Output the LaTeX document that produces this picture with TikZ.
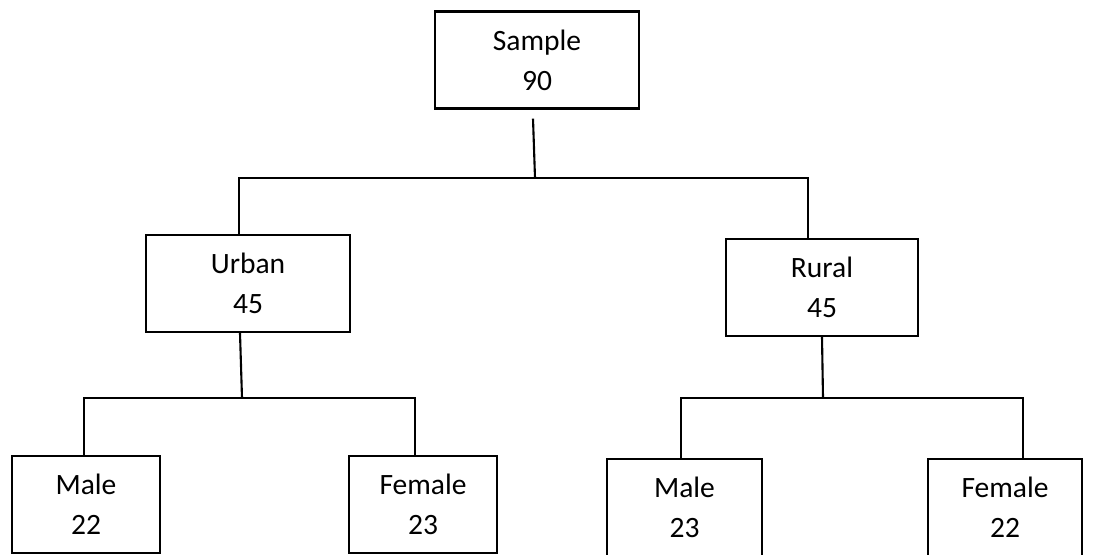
\documentclass[tikz,border=0pt]{standalone}
\usepackage{fontspec}
\setmainfont{Carlito}
\usetikzlibrary{positioning,calc}

\begin{document}
\begin{tikzpicture}[x=0.02cm,y=-0.02cm,
  catbox/.style={draw,line width=1.3pt,inner sep=0pt,align=center,font=\fontsize{16.8}{22.8}\selectfont,minimum height=1.94cm},
  link/.style={draw,line width=1.2pt}]
  \useasboundingbox (0,0) rectangle (1114,554);
  % Root
  \node[catbox,minimum width=4.08cm] (root) at (537,60) {Sample\\90};
  % Area
  \node[catbox,minimum width=4.08cm] (urb) at (248,283.5) {Urban\\45};
  \node[catbox,minimum width=3.84cm] (rur) at (822,287.5) {Rural\\45};
  % Gender (urban)
  \node[catbox,minimum width=2.96cm] (um) at (86,504.5) {Male\\22};
  \node[catbox,minimum width=2.96cm] (uf) at (423,504.5) {Female\\23};
  % Gender (rural)
  \node[catbox,minimum width=3.10cm] (rm) at (684.5,507.5) {Male\\23};
  \node[catbox,minimum width=3.08cm] (rf) at (1005,507.5) {Female\\22};
  % Junctions
  \coordinate (jtop) at (535,178);
  \coordinate (jurb) at (242,398);
  \coordinate (jrur) at (823,398);
  % Lines
  \draw[link] (root.south) ++(-4,9) -- (jtop);
  \draw[link] ($(urb.north)+(-9,0)$) |- (jtop) -| ($(rur.north)+(-14,0)$);
  \draw[link] ($(urb.south)+(-8,0)$) -- (jurb);
  \draw[link] ($(um.north)+(-2,0)$) |- (jurb) -| ($(uf.north)+(-8,0)$);
  \draw[link] (rur.south) -- (jrur);
  \draw[link] ($(rm.north)+(-3.5,0)$) |- (jrur) -| ($(rf.north)+(18,0)$);
\end{tikzpicture}
\end{document}
